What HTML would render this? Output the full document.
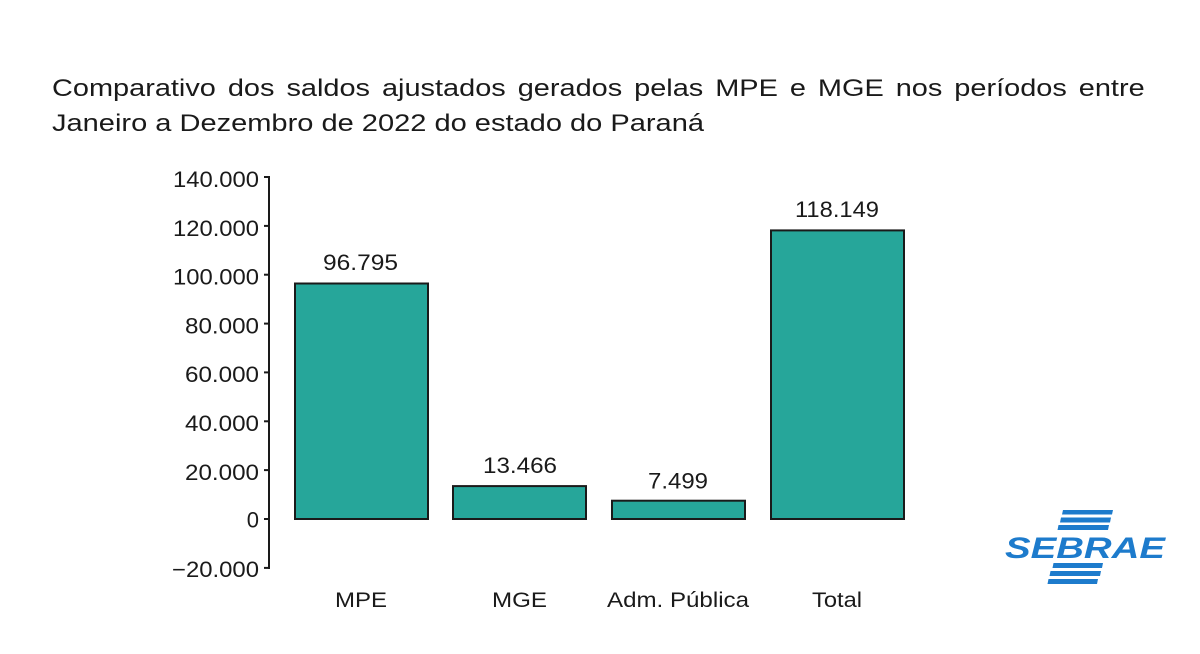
<!DOCTYPE html>
<html><head><meta charset="utf-8"><style>
html,body{margin:0;padding:0;background:#fff;}
svg{display:block;position:absolute;left:0;top:0;}
.t1{position:absolute;left:52px;top:77px;width:926px;font-family:"Liberation Sans",Arial,sans-serif;font-size:24.5px;line-height:24px;color:#1a1a1a;text-align:justify;text-align-last:justify;white-space:nowrap;z-index:2;transform:scaleX(1.18);transform-origin:0 0;}
</style></head><body>
<svg width="1200" height="654" viewBox="0 0 1200 654" xmlns="http://www.w3.org/2000/svg" font-family="'Liberation Sans', Arial, sans-serif">
<rect width="1200" height="654" fill="#fff"/>
<text x="52" y="131" font-size="24.5" fill="#1a1a1a" textLength="652" lengthAdjust="spacingAndGlyphs">Janeiro a Dezembro de 2022 do estado do Paraná</text>

<!-- axis -->
<line x1="269" y1="176" x2="269" y2="569" stroke="#1a1a1a" stroke-width="2"/>
<g stroke="#1a1a1a" stroke-width="2">
<line x1="264" y1="177" x2="269" y2="177"/>
<line x1="264" y1="225.9" x2="269" y2="225.9"/>
<line x1="264" y1="274.7" x2="269" y2="274.7"/>
<line x1="264" y1="323.6" x2="269" y2="323.6"/>
<line x1="264" y1="372.4" x2="269" y2="372.4"/>
<line x1="264" y1="421.3" x2="269" y2="421.3"/>
<line x1="264" y1="470.1" x2="269" y2="470.1"/>
<line x1="264" y1="519" x2="269" y2="519"/>
<line x1="264" y1="567.9" x2="269" y2="567.9"/>
</g>
<g font-size="22" fill="#1a1a1a" text-anchor="end">
<text x="259" y="187" textLength="86" lengthAdjust="spacingAndGlyphs">140.000</text>
<text x="259" y="236" textLength="86" lengthAdjust="spacingAndGlyphs">120.000</text>
<text x="259" y="284.5" textLength="86" lengthAdjust="spacingAndGlyphs">100.000</text>
<text x="259" y="333.5" textLength="74" lengthAdjust="spacingAndGlyphs">80.000</text>
<text x="259" y="382" textLength="74" lengthAdjust="spacingAndGlyphs">60.000</text>
<text x="259" y="431" textLength="74" lengthAdjust="spacingAndGlyphs">40.000</text>
<text x="259" y="480" textLength="74" lengthAdjust="spacingAndGlyphs">20.000</text>
<text x="259" y="527.5">0</text>
<text x="259" y="577" textLength="87" lengthAdjust="spacingAndGlyphs">−20.000</text>
</g>

<!-- bars -->
<g fill="#26a69a" stroke="#1a1a1a" stroke-width="2">
<rect x="295" y="283.5" width="133" height="235.5"/>
<rect x="453" y="486.1" width="133" height="32.9"/>
<rect x="612" y="500.7" width="133" height="18.3"/>
<rect x="771" y="230.4" width="133" height="288.6"/>
</g>

<g font-size="22.5" fill="#1a1a1a">
<text x="323" y="270" textLength="75" lengthAdjust="spacingAndGlyphs">96.795</text>
<text x="483" y="473" textLength="74" lengthAdjust="spacingAndGlyphs">13.466</text>
<text x="648" y="488.5" textLength="60" lengthAdjust="spacingAndGlyphs">7.499</text>
<text x="795" y="217" textLength="84" lengthAdjust="spacingAndGlyphs">118.149</text>
</g>

<g font-size="21.5" fill="#1a1a1a">
<text x="335" y="607" textLength="52" lengthAdjust="spacingAndGlyphs">MPE</text>
<text x="492" y="607" textLength="55" lengthAdjust="spacingAndGlyphs">MGE</text>
<text x="607" y="607" textLength="142" lengthAdjust="spacingAndGlyphs">Adm. Pública</text>
<text x="812" y="607" textLength="50" lengthAdjust="spacingAndGlyphs">Total</text>
</g>

<!-- SEBRAE logo -->
<g fill="#1d7bcc">
<polygon points="1063,510 1113,510 1112,514.5 1062,514.5"/>
<polygon points="1061,517.5 1111,517.5 1110,522.5 1060,522.5"/>
<polygon points="1058.5,525 1109,525 1108,530 1057.5,530"/>
<polygon points="1053.5,563 1103,563 1102,568 1052.5,568"/>
<polygon points="1050.5,571 1101,571 1100,576 1049.5,576"/>
<polygon points="1048.5,579 1098,579 1097,584 1047.5,584"/>
<text x="1005" y="558" font-size="30" font-weight="bold" font-style="italic" textLength="160" lengthAdjust="spacingAndGlyphs">SEBRAE</text>
</g>
</svg>
<div class="t1">Comparativo dos saldos ajustados gerados pelas MPE e MGE nos períodos entre</div>
</body></html>
